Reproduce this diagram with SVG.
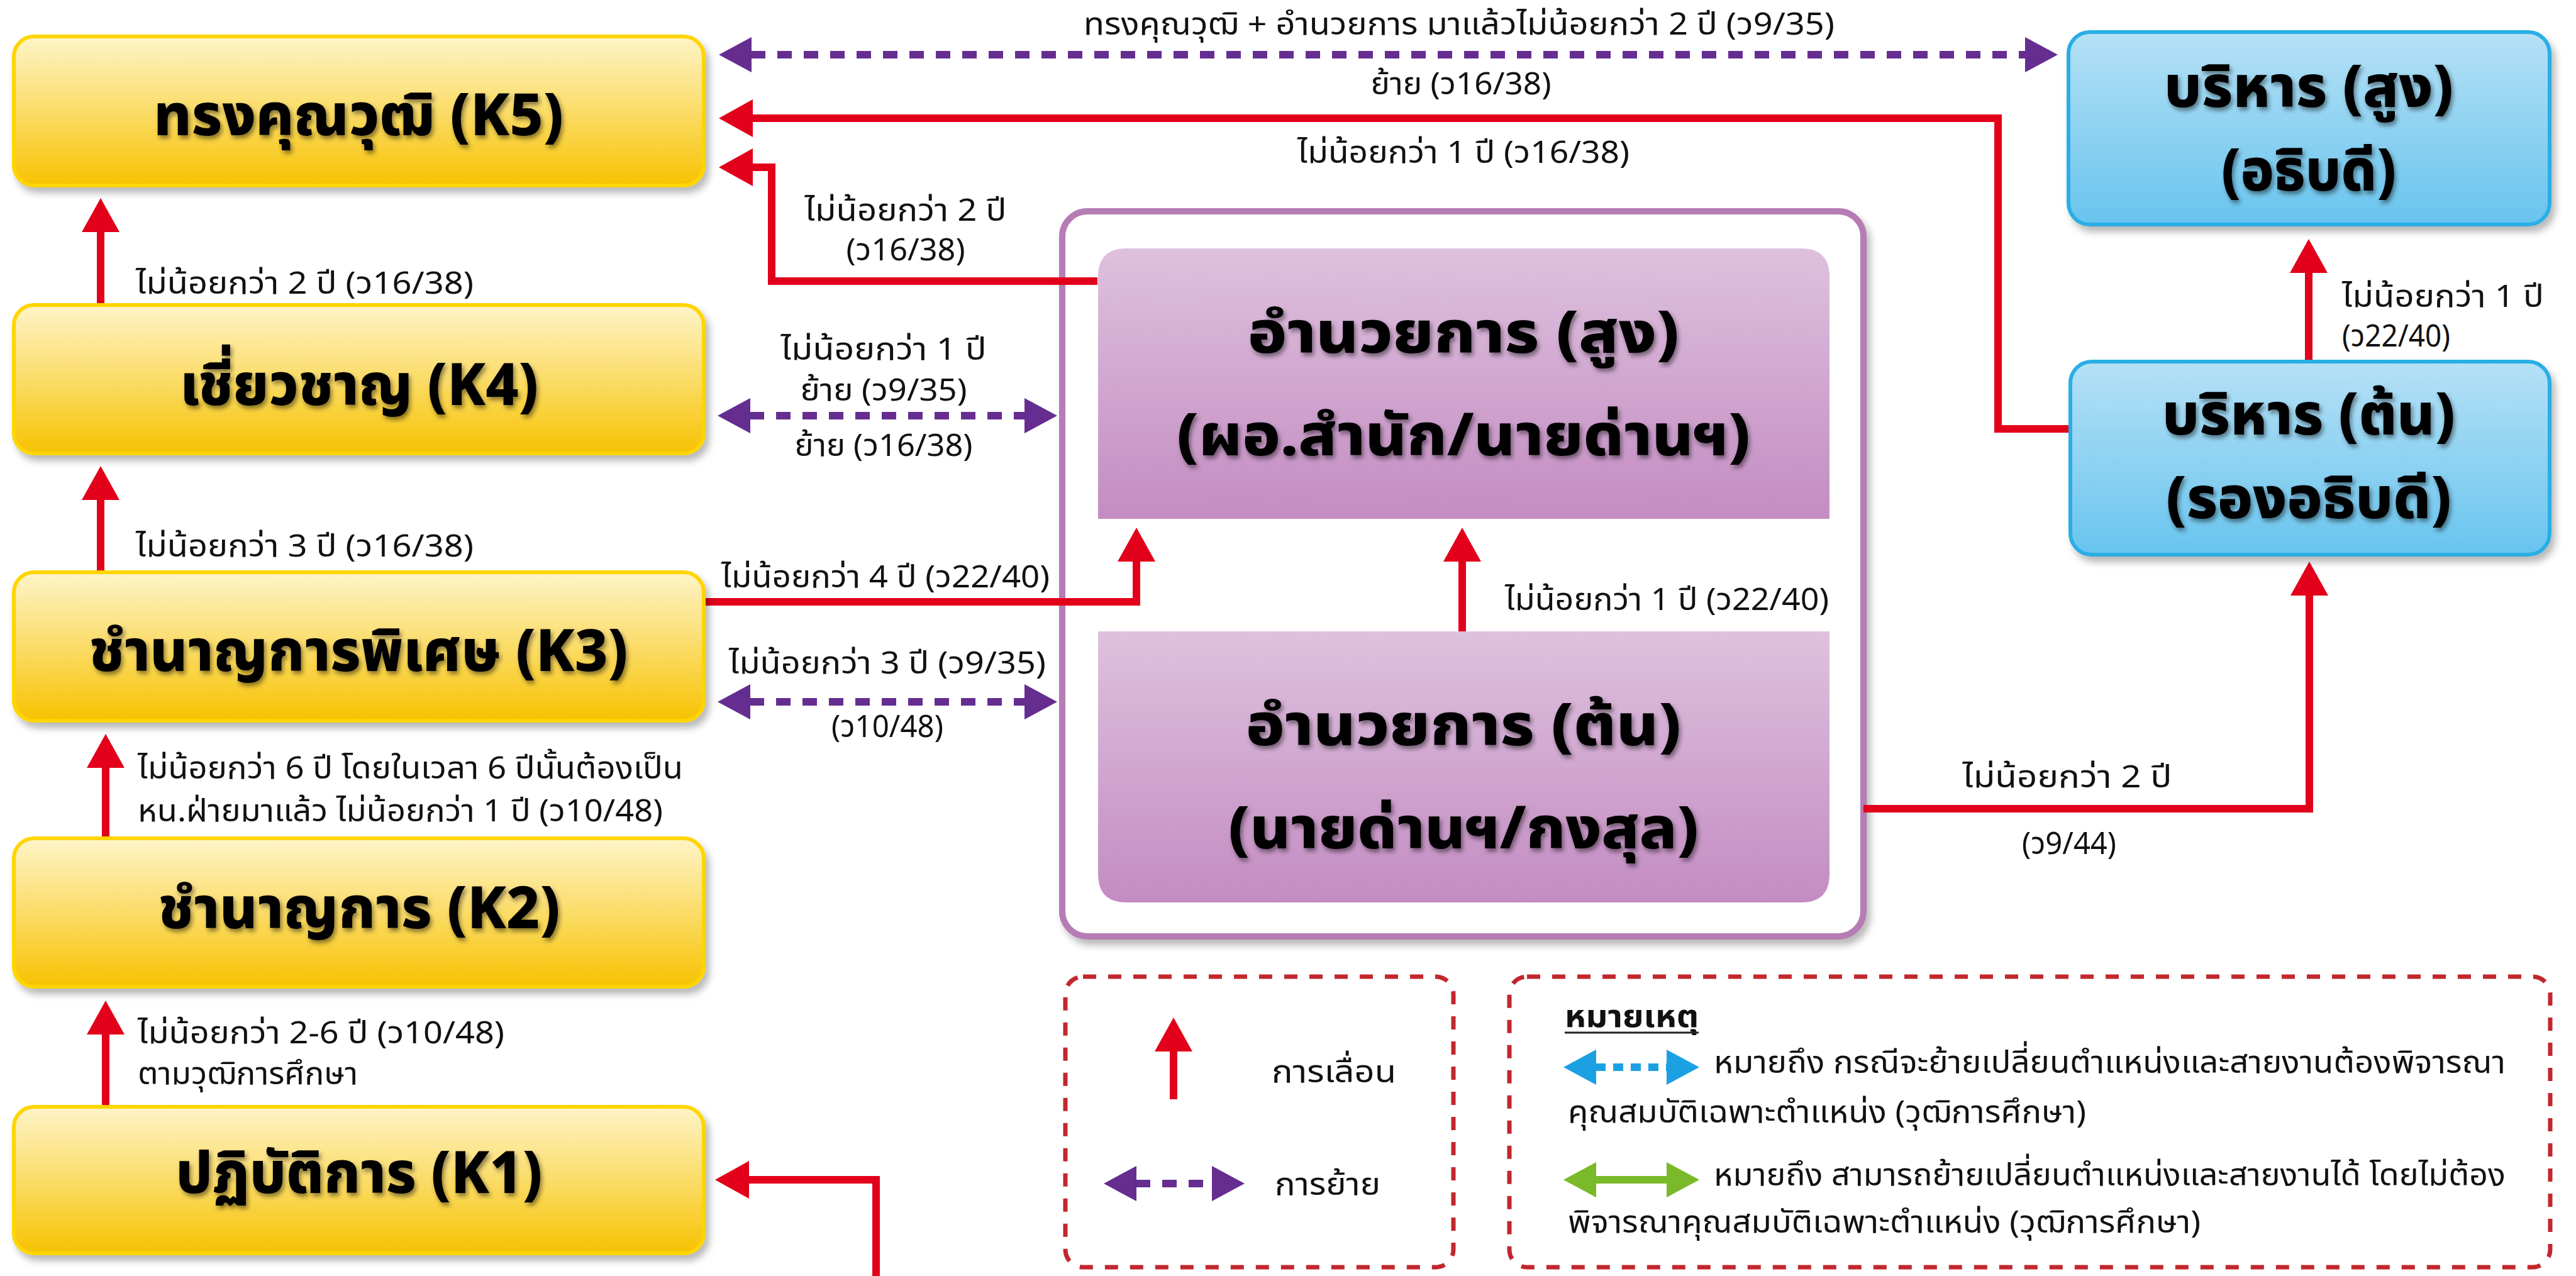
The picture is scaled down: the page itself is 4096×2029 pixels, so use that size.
<svg xmlns="http://www.w3.org/2000/svg" width="4096" height="2029" viewBox="0 0 4096 2029">
<defs>
  <linearGradient id="gYellow" x1="0" y1="0" x2="0" y2="1">
    <stop offset="0" stop-color="#FEF4C8"/>
    <stop offset="0.5" stop-color="#FBDC68"/>
    <stop offset="1" stop-color="#F7C200"/>
  </linearGradient>
  <linearGradient id="gBlue" x1="0" y1="0" x2="0" y2="1">
    <stop offset="0" stop-color="#B6E1F6"/>
    <stop offset="1" stop-color="#68C4EE"/>
  </linearGradient>
  <linearGradient id="gPurple" x1="0" y1="0" x2="0" y2="1">
    <stop offset="0" stop-color="#DEC1DE"/>
    <stop offset="1" stop-color="#C38CC2"/>
  </linearGradient>
  <filter id="boxShadow" x="-5%" y="-10%" width="115%" height="130%">
    <feDropShadow dx="6" dy="9" stdDeviation="6" flood-color="#000" flood-opacity="0.28"/>
  </filter>
  <filter id="textShadow" x="-10%" y="-20%" width="120%" height="150%">
    <feDropShadow dx="3" dy="5" stdDeviation="3.5" flood-color="#000" flood-opacity="0.45"/>
  </filter>
  <marker id="redHead" viewBox="0 0 54 60" refX="1" refY="30" markerWidth="54" markerHeight="60" markerUnits="userSpaceOnUse" orient="auto">
    <path d="M0,0 L54,30 L0,60 Z" fill="#E2001A"/>
  </marker>
  <marker id="purpleHead" viewBox="0 0 52 56" refX="1" refY="28" markerWidth="52" markerHeight="56" markerUnits="userSpaceOnUse" orient="auto-start-reverse">
    <path d="M0,0 L52,28 L0,56 Z" fill="#662D91"/>
  </marker>
  <marker id="blueHead" viewBox="0 0 52 56" refX="1" refY="28" markerWidth="52" markerHeight="56" markerUnits="userSpaceOnUse" orient="auto-start-reverse">
    <path d="M0,0 L52,28 L0,56 Z" fill="#1BA1E2"/>
  </marker>
  <marker id="greenHead" viewBox="0 0 52 56" refX="1" refY="28" markerWidth="52" markerHeight="56" markerUnits="userSpaceOnUse" orient="auto-start-reverse">
    <path d="M0,0 L52,28 L0,56 Z" fill="#7AB929"/>
  </marker>
  <style>
    .ybox { fill: url(#gYellow); stroke: #FFD500; stroke-width: 6; filter: url(#boxShadow); }
    .bbox { fill: url(#gBlue); stroke: #2AAEE5; stroke-width: 6; filter: url(#boxShadow); }
    .pbox { fill: url(#gPurple); }
    .cont { fill: #FFFFFF; stroke: #B67CB4; stroke-width: 10; filter: url(#boxShadow); }
    .ntxt { font-family: "Noto Sans Thai", "Noto Sans", "DejaVu Sans", sans-serif; font-weight: 800; font-size: 92px; fill: #000; text-anchor: middle; filter: url(#textShadow); }
    .lbl { font-family: "Noto Sans Thai", "Noto Sans", "DejaVu Sans", sans-serif; font-size: 50px; fill: #111; }
    .mid { text-anchor: middle; }
    .red { fill: none; stroke: #E2001A; stroke-width: 12; stroke-linejoin: miter; marker-end: url(#redHead); }
    .pdash { fill: none; stroke: #662D91; stroke-width: 12; stroke-dasharray: 23 19; marker-start: url(#purpleHead); marker-end: url(#purpleHead); }
    .legbox { fill: none; stroke: #C1272D; stroke-width: 7; stroke-dasharray: 21 19; }
  </style>
</defs>
<rect x="0" y="0" width="4096" height="2029" fill="#FFFFFF"/>

<!-- container for อำนวยการ -->
<g id="container-director">
  <rect class="cont" x="1689" y="336" width="1274" height="1153" rx="40"/>
</g>

<!-- connectors -->
<g id="connectors">
  <path class="red" d="M160,485 V368"/>
  <path class="red" d="M160,910 V794"/>
  <path class="red" d="M168,1333 V1220"/>
  <path class="red" d="M168,1760 V1644"/>
  <path class="red" d="M1393,2035 V1876 H1190"/>
  <path class="red" d="M1119,957 H1807 V892"/>
  <path class="red" d="M2325,1004 V892"/>
  <path class="red" d="M1745,447 H1227 V266 H1196"/>
  <path class="red" d="M3289,682 H3177 V188 H1196"/>
  <path class="red" d="M3671,575 V433"/>
  <path class="red" d="M2963,1286 H3672 V946"/>
  <path class="pdash" d="M1194,87 H3221"/>
  <path class="pdash" d="M1192,661 H1630"/>
  <path class="pdash" d="M1192,1116 H1630"/>
</g>

<!-- yellow K nodes -->
<g id="node-k5">
  <rect class="ybox" x="22" y="58" width="1097" height="237" rx="32"/>
  <text class="ntxt" x="570" y="215" textLength="652" lengthAdjust="spacingAndGlyphs">ทรงคุณวุฒิ (K5)</text>
</g>
<g id="node-k4">
  <rect class="ybox" x="22" y="485" width="1097" height="236" rx="32"/>
  <text class="ntxt" x="571" y="644" textLength="570" lengthAdjust="spacingAndGlyphs">เชี่ยวชาญ (K4)</text>
</g>
<g id="node-k3">
  <rect class="ybox" x="22" y="910" width="1097" height="236" rx="32"/>
  <text class="ntxt" x="570" y="1067" textLength="857" lengthAdjust="spacingAndGlyphs">ชำนาญการพิเศษ (K3)</text>
</g>
<g id="node-k2">
  <rect class="ybox" x="22" y="1333" width="1097" height="236" rx="32"/>
  <text class="ntxt" x="571" y="1476" textLength="639" lengthAdjust="spacingAndGlyphs">ชำนาญการ (K2)</text>
</g>
<g id="node-k1">
  <rect class="ybox" x="22" y="1760" width="1097" height="233" rx="32"/>
  <text class="ntxt" x="571" y="1897" textLength="583" lengthAdjust="spacingAndGlyphs">ปฏิบัติการ (K1)</text>
</g>

<!-- purple director nodes -->
<g id="node-director-high">
  <path class="pbox" d="M1746,825 V440 Q1746,395 1791,395 H2864 Q2909,395 2909,440 V825 Z"/>
  <text class="ntxt" x="2327" y="561" textLength="686" lengthAdjust="spacingAndGlyphs">อำนวยการ (สูง)</text>
  <text class="ntxt" x="2327" y="724" textLength="912" lengthAdjust="spacingAndGlyphs">(ผอ.สำนัก/นายด่านฯ)</text>
</g>
<g id="node-director-low">
  <path class="pbox" d="M1746,1004 H2909 V1390 Q2909,1435 2864,1435 H1791 Q1746,1435 1746,1390 Z"/>
  <text class="ntxt" x="2327" y="1185" textLength="692" lengthAdjust="spacingAndGlyphs">อำนวยการ (ต้น)</text>
  <text class="ntxt" x="2327" y="1349" textLength="748" lengthAdjust="spacingAndGlyphs">(นายด่านฯ/กงสุล)</text>
</g>

<!-- blue executive nodes -->
<g id="node-exec-high">
  <rect class="bbox" x="3289" y="51" width="765" height="306" rx="34"/>
  <text class="ntxt" x="3671" y="170" textLength="460" lengthAdjust="spacingAndGlyphs">บริหาร (สูง)</text>
  <text class="ntxt" x="3671" y="303" textLength="278" lengthAdjust="spacingAndGlyphs">(อธิบดี)</text>
</g>
<g id="node-exec-low">
  <rect class="bbox" x="3292" y="575" width="762" height="307" rx="34"/>
  <text class="ntxt" x="3671" y="691" textLength="466" lengthAdjust="spacingAndGlyphs">บริหาร (ต้น)</text>
  <text class="ntxt" x="3671" y="824" textLength="454" lengthAdjust="spacingAndGlyphs">(รองอธิบดี)</text>
</g>

<!-- connector labels -->
<g id="labels">
  <text class="lbl" x="216" y="467" textLength="537" lengthAdjust="spacingAndGlyphs">ไม่น้อยกว่า 2 ปี (ว16/38)</text>
  <text class="lbl" x="216" y="885" textLength="537" lengthAdjust="spacingAndGlyphs">ไม่น้อยกว่า 3 ปี (ว16/38)</text>
  <text class="lbl" x="219" y="1238" textLength="867" lengthAdjust="spacingAndGlyphs">ไม่น้อยกว่า 6 ปี โดยในเวลา 6 ปีนั้นต้องเป็น</text>
  <text class="lbl" x="219" y="1306" textLength="835" lengthAdjust="spacingAndGlyphs">หน.ฝ่ายมาแล้ว ไม่น้อยกว่า 1 ปี (ว10/48)</text>
  <text class="lbl" x="219" y="1659" textLength="583" lengthAdjust="spacingAndGlyphs">ไม่น้อยกว่า 2-6 ปี (ว10/48)</text>
  <text class="lbl" x="219" y="1724" textLength="350" lengthAdjust="spacingAndGlyphs">ตามวุฒิการศึกษา</text>
  <text class="lbl mid" x="2320" y="55" textLength="1194" lengthAdjust="spacingAndGlyphs">ทรงคุณวุฒิ + อำนวยการ มาแล้วไม่น้อยกว่า 2 ปี (ว9/35)</text>
  <text class="lbl mid" x="2323" y="150" textLength="287" lengthAdjust="spacingAndGlyphs">ย้าย (ว16/38)</text>
  <text class="lbl mid" x="2327" y="259" textLength="528" lengthAdjust="spacingAndGlyphs">ไม่น้อยกว่า 1 ปี (ว16/38)</text>
  <text class="lbl mid" x="1440" y="351" textLength="321" lengthAdjust="spacingAndGlyphs">ไม่น้อยกว่า 2 ปี</text>
  <text class="lbl mid" x="1440" y="414" textLength="189" lengthAdjust="spacingAndGlyphs">(ว16/38)</text>
  <text class="lbl mid" x="1405" y="572" textLength="327" lengthAdjust="spacingAndGlyphs">ไม่น้อยกว่า 1 ปี</text>
  <text class="lbl mid" x="1405" y="637" textLength="265" lengthAdjust="spacingAndGlyphs">ย้าย (ว9/35)</text>
  <text class="lbl mid" x="1405" y="725" textLength="283" lengthAdjust="spacingAndGlyphs">ย้าย (ว16/38)</text>
  <text class="lbl" x="1147" y="934" textLength="522" lengthAdjust="spacingAndGlyphs">ไม่น้อยกว่า 4 ปี (ว22/40)</text>
  <text class="lbl mid" x="1411" y="1071" textLength="504" lengthAdjust="spacingAndGlyphs">ไม่น้อยกว่า 3 ปี (ว9/35)</text>
  <text class="lbl mid" x="1411" y="1172" textLength="178" lengthAdjust="spacingAndGlyphs">(ว10/48)</text>
  <text class="lbl" x="2393" y="970" textLength="515" lengthAdjust="spacingAndGlyphs">ไม่น้อยกว่า 1 ปี (ว22/40)</text>
  <text class="lbl" x="3724" y="488" textLength="321" lengthAdjust="spacingAndGlyphs">ไม่น้อยกว่า 1 ปี</text>
  <text class="lbl" x="3724" y="551" textLength="172" lengthAdjust="spacingAndGlyphs">(ว22/40)</text>
  <text class="lbl mid" x="3287" y="1252" textLength="333" lengthAdjust="spacingAndGlyphs">ไม่น้อยกว่า 2 ปี</text>
  <text class="lbl mid" x="3290" y="1358" textLength="150" lengthAdjust="spacingAndGlyphs">(ว9/44)</text>
</g>

<!-- legend -->
<g id="legend-symbols">
  <rect class="legbox" x="1694" y="1553" width="617" height="462" rx="28"/>
  <path class="red" d="M1866,1748 V1671"/>
  <text class="lbl" x="2022" y="1721" textLength="198" lengthAdjust="spacingAndGlyphs">การเลื่อน</text>
  <path class="pdash" d="M1806,1882 H1928"/>
  <text class="lbl" x="2027" y="1900" textLength="168" lengthAdjust="spacingAndGlyphs">การย้าย</text>
</g>
<g id="legend-notes">
  <rect class="legbox" x="2400" y="1553" width="1655" height="462" rx="28"/>
  <text class="lbl" x="2488" y="1633" font-weight="bold" textLength="213" lengthAdjust="spacingAndGlyphs">หมายเหตุ</text>
  <line x1="2488" y1="1642" x2="2701" y2="1642" stroke="#222" stroke-width="3"/>
  <path d="M2537,1697 H2651" fill="none" stroke="#1BA1E2" stroke-width="12" stroke-dasharray="16 12" marker-start="url(#blueHead)" marker-end="url(#blueHead)"/>
  <text class="lbl" x="2725" y="1706" textLength="1259" lengthAdjust="spacingAndGlyphs">หมายถึง กรณีจะย้ายเปลี่ยนตำแหน่งและสายงานต้องพิจารณา</text>
  <text class="lbl" x="2493" y="1785" textLength="824" lengthAdjust="spacingAndGlyphs">คุณสมบัติเฉพาะตำแหน่ง (วุฒิการศึกษา)</text>
  <path d="M2537,1876 H2651" fill="none" stroke="#7AB929" stroke-width="12" marker-start="url(#greenHead)" marker-end="url(#greenHead)"/>
  <text class="lbl" x="2725" y="1885" textLength="1259" lengthAdjust="spacingAndGlyphs">หมายถึง สามารถย้ายเปลี่ยนตำแหน่งและสายงานได้ โดยไม่ต้อง</text>
  <text class="lbl" x="2493" y="1960" textLength="1006" lengthAdjust="spacingAndGlyphs">พิจารณาคุณสมบัติเฉพาะตำแหน่ง (วุฒิการศึกษา)</text>
</g>
</svg>
